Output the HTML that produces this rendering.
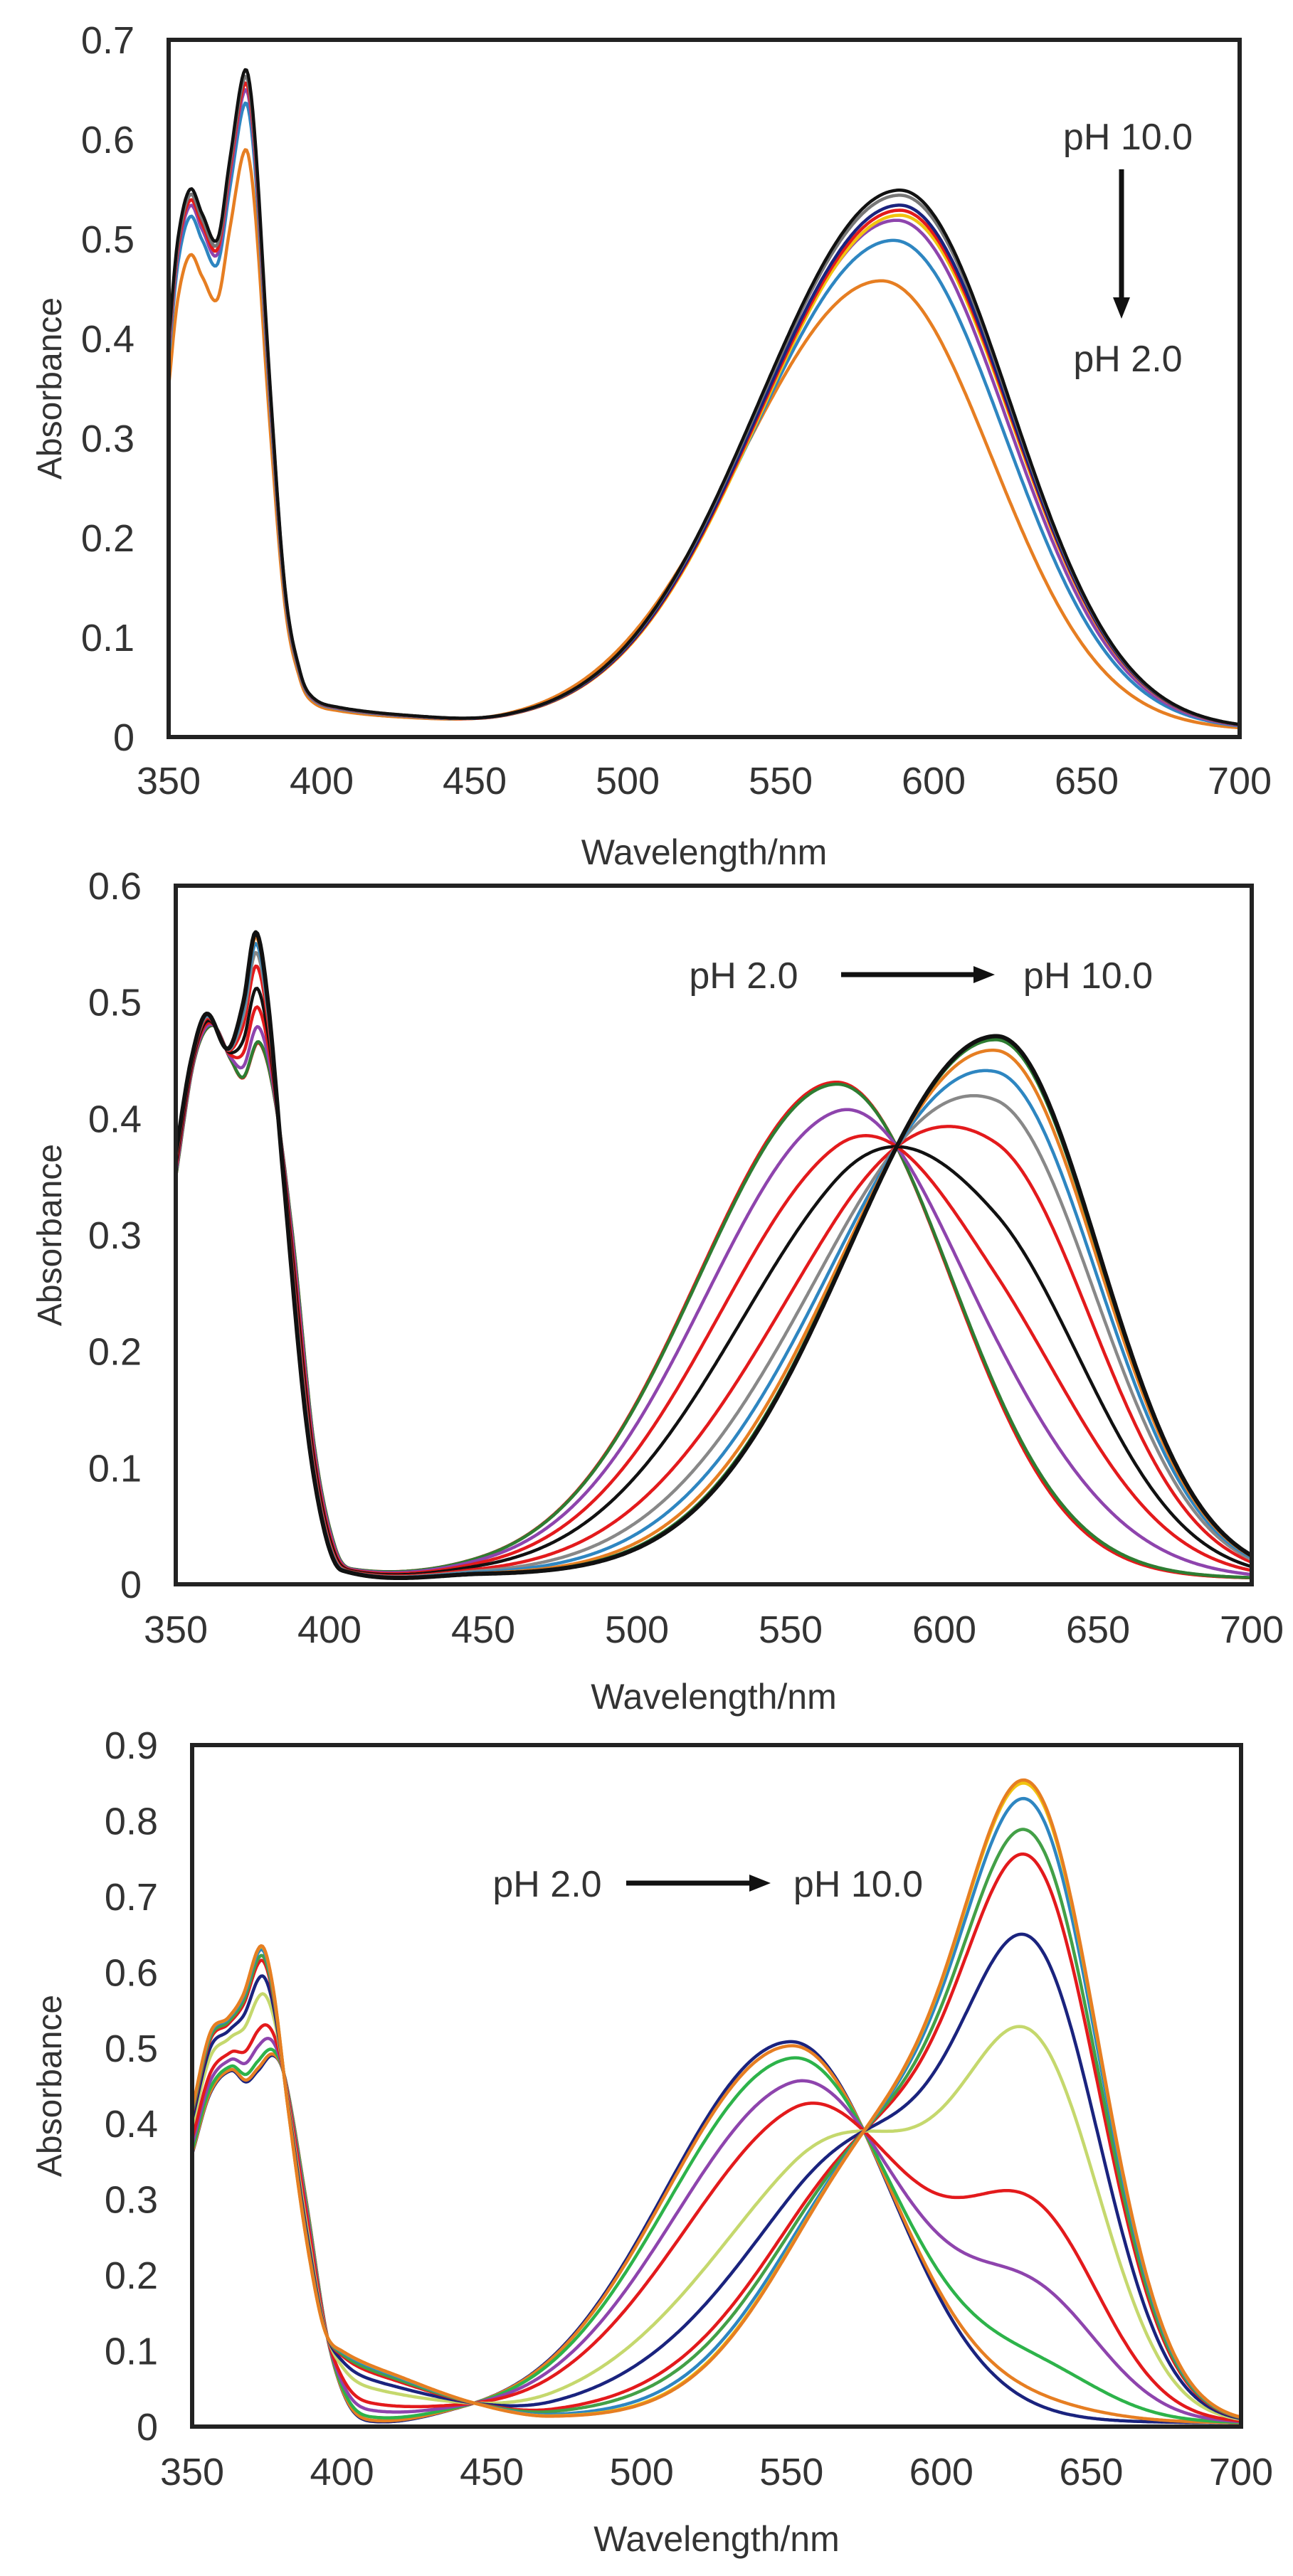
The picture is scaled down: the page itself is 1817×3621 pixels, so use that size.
<!DOCTYPE html>
<html><head><meta charset="utf-8"><style>
html,body{margin:0;padding:0;background:#fff;}
svg{display:block;}
text{font-family:"Liberation Sans",Arial,sans-serif;fill:#333;}
</style></head><body>
<svg id="s" width="1817" height="3621" xmlns="http://www.w3.org/2000/svg">
<rect width="1817" height="3621" fill="#fff"/>
</svg>
<script>
var S=document.getElementById('s'),NS='http://www.w3.org/2000/svg';
function el(t,a,txt){var e=document.createElementNS(NS,t);for(var k in a)e.setAttribute(k,a[k]);if(txt!==undefined)e.textContent=txt;S.appendChild(e);return e;}
function interp(pts,x){var n=pts.length;if(x<=pts[0][0])return pts[0][1];if(x>=pts[n-1][0])return pts[n-1][1];
 for(var i=1;i<n;i++){if(x<=pts[i][0]){var p1=pts[i-1],p2=pts[i],p0=pts[Math.max(0,i-2)],p3=pts[Math.min(n-1,i+1)];
  var h=p2[0]-p1[0],t=(x-p1[0])/h;
  var m1=(p2[1]-p0[1])/(p2[0]-p0[0])*h,m2=(p3[1]-p1[1])/(p3[0]-p1[0])*h;
  var t2=t*t,t3=t2*t;
  return (2*t3-3*t2+1)*p1[1]+(t3-2*t2+t)*m1+(-2*t3+3*t2)*p2[1]+(t3-t2)*m2;}}return pts[n-1][1];}
function ag(x,c,a,sl,sr){var s=x<c?sl:sr;return a*Math.exp(-(x-c)*(x-c)/(2*s*s));}
function plot(P){
 var L=P.l,R=P.r,T=P.t,B=P.b,W=R-L,H=B-T;
 function X(v){return L+(v-350)/350*W;}function Y(v){return B-v/P.max*H;}
 for(var i=0;i<=P.n;i++){var v=i*P.max/P.n;el('text',{x:L-48,y:Y(v)+19,'font-size':54,'text-anchor':'end'},i==0?'0':v.toFixed(1));}
 for(var w=350;w<=700;w+=50)el('text',{x:X(w),y:P.xl,'font-size':54,'text-anchor':'middle'},w);
 el('text',{x:(L+R)/2,y:P.wl,'font-size':50,'text-anchor':'middle'},'Wavelength/nm');
 el('text',{x:0,y:0,'font-size':48,'text-anchor':'middle',transform:'translate('+P.yx+','+((T+B)/2)+') rotate(-90)'},'Absorbance');
 P.curves.forEach(function(c){var d='';for(var w=350;w<=700;w+=0.5){var v=Math.max(0,c.f(w));d+=(w==350?'M':'L')+X(w).toFixed(1)+','+Y(Math.min(v,P.max)).toFixed(1);}el('path',{d:d,fill:'none',stroke:c.c,'stroke-width':c.w||4.5,'stroke-linejoin':'round'});});
 el('rect',{x:L,y:T,width:W,height:H,fill:'none',stroke:'#222','stroke-width':6});
}
function arrowH(x1,x2,y){el('line',{x1:x1,y1:y,x2:x2-24,y2:y,stroke:'#111','stroke-width':7});el('polygon',{points:x2+','+y+' '+(x2-30)+','+(y-12)+' '+(x2-30)+','+(y+12),fill:'#111'});}

// Plot 1
var uv1=[[350,0.4],[353,0.5],[357,0.55],[361,0.525],[366,0.5],[370,0.58],[375,0.67],[378,0.61],[383,0.36],[388,0.15],[393,0.065],[397,0.04],[405,0.03],[430,0.02],[460,0.012],[700,0.008]];
var c1=[['#e67e22',0.88,0.46,583],['#2e86c1',0.95,0.5,587],['#8e44ad',0.97,0.52,588],['#f1c40f',0.98,0.525,589],['#e31a1c',0.98,0.53,589],['#1a237e',0.99,0.535,589],['#777',0.99,0.545,589],['#111',1,0.55,589]];
plot({l:237,r:1742,t:56,b:1036,max:0.7,n:7,xl:1116,wl:1215,yx:86,curves:c1.map(function(p){return{c:p[0],f:function(w){return interp(uv1,w)*p[1]+ag(w,p[3],p[2]-0.01,46,36);}};})});
el('text',{x:1585,y:210,'font-size':52,'text-anchor':'middle'},'pH 10.0');
el('line',{x1:1576,y1:238,x2:1576,y2:420,stroke:'#111','stroke-width':7});
el('polygon',{points:'1576,448 1564,418 1588,418',fill:'#111'});
el('text',{x:1585,y:522,'font-size':52,'text-anchor':'middle'},'pH 2.0');

// Plot 2
var uvB=[[350,0.37],[355,0.45],[360,0.49],[367,0.46],[372,0.5],[376,0.56],[380,0.5],[385,0.35],[392,0.15],[398,0.05],[404,0.012],[450,0.008],[700,0.005]];
var uvA=[[350,0.35],[356,0.45],[362,0.48],[368,0.45],[372,0.435],[377,0.465],[382,0.42],[388,0.3],[395,0.12],[402,0.03],[408,0.012],[450,0.008],[700,0.005]];
function acid2(w){return ag(w,565,0.425,45,37);}function base2(w){return ag(w,617,0.465,48,33);}
var c2=[['#e31a1c',0],['#2e7d32',0.01],['#8e44ad',0.15],['#e31a1c',0.33],['#111',0.5],['#e31a1c',0.7],['#888',0.82],['#2e86c1',0.9],['#e67e22',0.96],['#2e7d32',0.99],['#111',1]];
plot({l:247,r:1759,t:1245,b:2227,max:0.6,n:6,xl:2309,wl:2402,yx:86,curves:c2.map(function(p){var f=p[1];return{c:p[0],w:f==1?6:4.5,f:function(w){return interp(uvA,w)*(1-f)+interp(uvB,w)*f+acid2(w)*(1-f)+base2(w)*f;}};})});
el('text',{x:1045,y:1389,'font-size':52,'text-anchor':'middle'},'pH 2.0');
arrowH(1182,1398,1370);
el('text',{x:1529,y:1389,'font-size':52,'text-anchor':'middle'},'pH 10.0');

// Plot 3
var uvB3=[[350,0.42],[356,0.52],[362,0.54],[367,0.57],[373,0.635],[377,0.58],[382,0.42],[388,0.25],[394,0.13],[400,0.1],[420,0.065],[445,0.03],[470,0.012],[700,0.005]];
var uvA3=[[350,0.36],[356,0.44],[363,0.47],[368,0.455],[372,0.47],[377,0.49],[381,0.46],[388,0.3],[395,0.12],[402,0.03],[410,0.005],[440,0.01],[470,0.01],[700,0.005]];
function acid3(w){return ag(w,550,0.5,42,33);}function base3(w){return ag(w,632,0.68,22,22)+ag(w,585,0.38,35,35);}
var c3=[['#1a237e',0],['#e67e22',0.02],['#2db34a',0.08],['#8e44ad',0.2],['#e31a1c',0.33],['#c5d86d',0.6],['#1a237e',0.75],['#e31a1c',0.88],['#43a047',0.92],['#2e86c1',0.97],['#f1c40f',0.995],['#e67e22',1]];
plot({l:270,r:1744,t:2453,b:3411,max:0.9,n:9,xl:3493,wl:3586,yx:86,curves:c3.map(function(p){var f=p[1];return{c:p[0],f:function(w){return interp(uvA3,w)*(1-f)+interp(uvB3,w)*f+acid3(w)*(1-f)+base3(w)*f;}};})});
el('text',{x:769,y:2666,'font-size':52,'text-anchor':'middle'},'pH 2.0');
arrowH(880,1083,2647);
el('text',{x:1206,y:2666,'font-size':52,'text-anchor':'middle'},'pH 10.0');
</script>
</body></html>
